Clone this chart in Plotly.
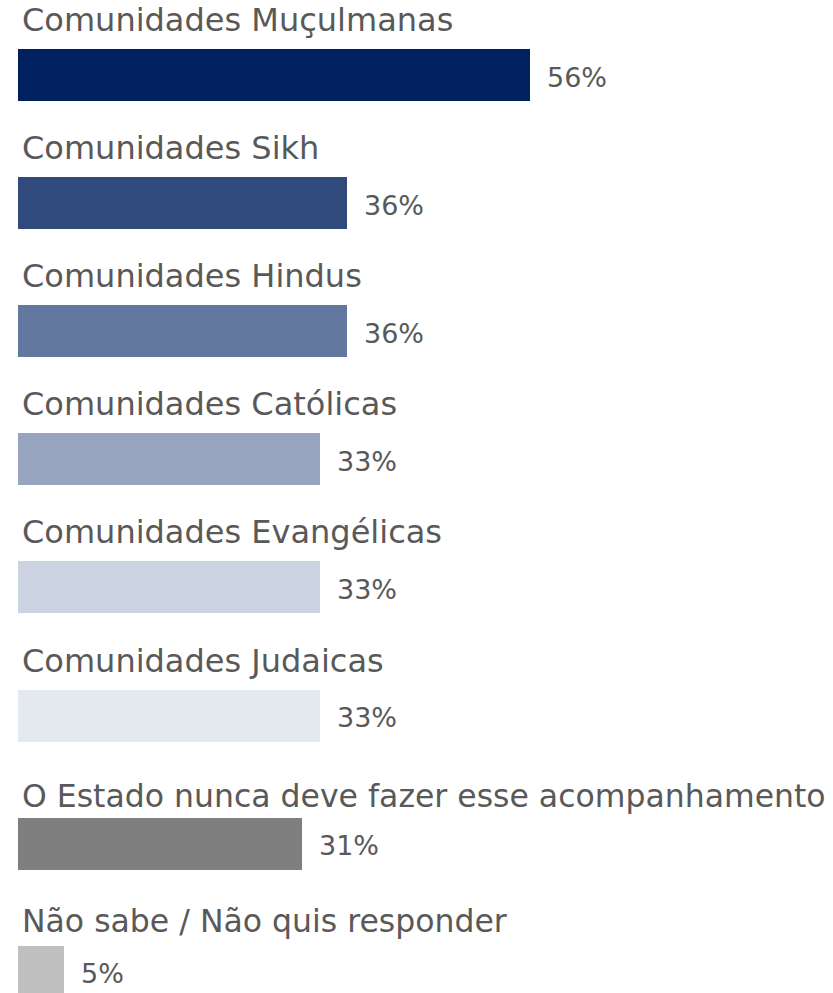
import plotly.graph_objects as go

categories = [
    "Comunidades Muçulmanas",
    "Comunidades Sikh",
    "Comunidades Hindus",
    "Comunidades Católicas",
    "Comunidades Evangélicas",
    "Comunidades Judaicas",
    "O Estado nunca deve fazer esse acompanhamento",
    "Não sabe / Não quis responder",
]
values = [56, 36, 36, 33, 33, 33, 31, 5]
colors = ["#002060", "#2F4A7B", "#62789F", "#98A4BF", "#CCD3E1", "#E4E8EF", "#7F7F7F", "#BFBFBF"]
label_sizes = [32, 32, 32, 32, 32, 32, 31.5, 31.5]
label_offsets = [55, 55, 55, 55, 55, 55, 48, 51]

pos = list(range(len(categories)))

fig = go.Figure()
fig.add_trace(go.Bar(
    x=values, y=pos, orientation="h",
    marker=dict(color=colors, line=dict(width=0)),
    width=0.406, hoverinfo="skip",
))

annotations = []
for i, (c, v, s, off) in enumerate(zip(categories, values, label_sizes, label_offsets)):
    annotations.append(dict(
        x=0, y=i, xref="x", yref="y", text=c, showarrow=False,
        xanchor="left", yanchor="middle", xshift=2, yshift=off,
        font=dict(family="DejaVu Sans", size=s, color="#595959"),
    ))
    annotations.append(dict(
        x=v, y=i, xref="x", yref="y", text=f"{v}%", showarrow=False,
        xanchor="left", yanchor="middle", xshift=15, yshift=-2,
        font=dict(family="DejaVu Sans", size=27, color="#595959"),
    ))

fig.update_layout(
    width=833, height=993,
    margin=dict(l=18, r=0, t=0, b=0),
    paper_bgcolor="white", plot_bgcolor="white",
    showlegend=False,
    xaxis=dict(range=[0, 89.1], visible=False, fixedrange=True),
    yaxis=dict(range=[7.166, -0.5855], visible=False, fixedrange=True),
    annotations=annotations,
    bargap=0,
)

fig.write_html("out.html", config={"displayModeBar": False},
               post_script="document.body.style.margin='0';")
